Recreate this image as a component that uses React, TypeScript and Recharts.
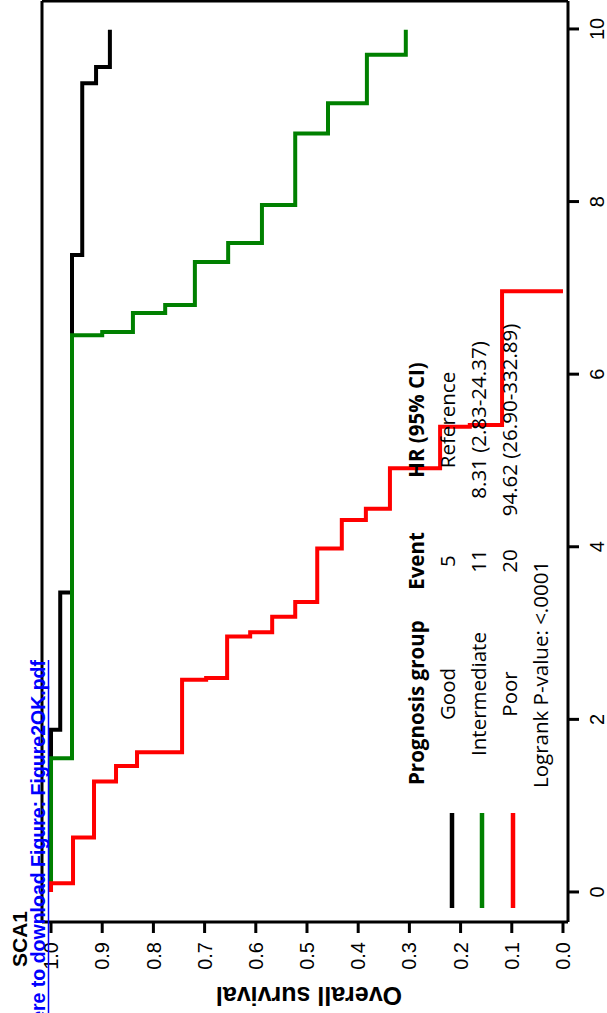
import React from "react";
import { LineChart, Line, XAxis, YAxis, ReferenceLine } from "recharts";

// Kaplan-Meier steps (time in years, overall survival)
const goodTime = [0, 1.88, 3.47, 7.38, 9.37, 9.56, 9.99];
const goodSurv = [1.0, 0.982, 0.959, 0.939, 0.912, 0.885, 0.885];

const interTime = [0, 1.55, 6.45, 6.49, 6.71, 6.8, 7.3, 7.52, 7.96, 8.79, 9.14, 9.7, 9.99];
const interSurv = [1.0, 0.959, 0.9, 0.84, 0.777, 0.719, 0.654, 0.588, 0.523, 0.459, 0.383, 0.307, 0.307];

const poorTime = [0, 0.1, 0.63, 1.28, 1.46, 1.62, 2.46, 2.48, 2.96, 3.01, 3.19, 3.36, 3.98, 4.31, 4.44, 4.91, 5.39, 5.41, 6.96];
const poorSurv = [1.0, 0.957, 0.916, 0.873, 0.832, 0.744, 0.697, 0.656, 0.611, 0.568, 0.523, 0.48, 0.432, 0.385, 0.338, 0.24, 0.182, 0.119, 0];

const timeTicks = [0, 2, 4, 6, 8, 10];
const survTicks = [0, 0.1, 0.2, 0.3, 0.4, 0.5, 0.6, 0.7, 0.8, 0.9, 1.0];

const groupNames = ["Good", "Intermediate", "Poor"];
const groupEvents = ["5", "11", "20"];
const groupHR = ["Reference", "8.31 (2.83-24.37)", "94.62 (26.90-332.89)"];
const groupColors = ["#000000", "#008000", "#ff0000"];

const T_MIN = -0.348;
const T_MAX = 10.324;
const S_MIN = -0.0098;
const S_MAX = 1.0176;

const W = 1013;
const H = 607;

const toPoints = (t: number[], s: number[]) => t.map((v, i) => ({ t: v, s: s[i] }));

const tickFont = { fontSize: 20, fill: "#000", fontFamily: "'Liberation Sans', Arial, sans-serif" };
const legendFont = "'Open Sans', 'Noto Sans', sans-serif";

function Overlay() {
  const rows = [455, 486, 517];
  const lineY = [452, 482, 513];
  return (
    <svg width={W} height={H} style={{ position: "absolute", left: 0, top: 0, pointerEvents: "none" }}>
      {/* link text */}
      <text x={353} y={45} textAnchor="end" fill="#0000ff" fontWeight="bold" fontSize={19.5}
        fontFamily="'Liberation Sans', Arial, sans-serif">
        Click here to download Figure: Figure2OK.pdf
      </text>
      <line x1={-80} x2={353} y1={48.5} y2={48.5} stroke="#0000ff" strokeWidth={1.5} />
      <text x={46} y={27} fontWeight="bold" fontSize={21} fontFamily="'Liberation Sans', Arial, sans-serif">SCA1</text>

      <text x={26} y={309} transform="rotate(-90, 26, 309)" textAnchor="middle" fontWeight="bold"
        fontSize={25} fontFamily="'Liberation Sans', Arial, sans-serif">
        Overall survival
      </text>

      {/* legend table */}
      <g fontFamily={legendFont} fontSize={20.5} fill="#000">
        <text x={228} y={424} fontWeight="bold">Prognosis group</text>
        <text x={452} y={424} fontWeight="bold" textAnchor="middle">Event</text>
        <text x={593} y={424} fontWeight="bold" textAnchor="middle">HR (95% CI)</text>
        {groupNames.map((g, i) => (
          <g key={g}>
            <line x1={105} x2={200} y1={lineY[i]} y2={lineY[i]} stroke={groupColors[i]} strokeWidth={4.5} />
            <text x={319} y={rows[i]} textAnchor="middle">{g}</text>
            <text x={452} y={rows[i]} textAnchor="middle">{groupEvents[i]}</text>
            <text x={593} y={rows[i]} textAnchor="middle">{groupHR[i]}</text>
          </g>
        ))}
        <text x={225} y={548}>Logrank P-value: &lt;.0001</text>
      </g>
    </svg>
  );
}

export default function App() {
  return (
    <div style={{ position: "fixed", left: 0, top: 0, width: H, height: W, overflow: "hidden", background: "#fff" }}>
      <div
        style={{
          position: "absolute",
          left: 0,
          top: 0,
          width: W,
          height: H,
          transformOrigin: "0 0",
          transform: `translateY(${W}px) rotate(-90deg)`,
        }}
      >
        <LineChart width={W} height={H} margin={{ top: 42, right: 1, bottom: 0, left: 0 }}>
          <XAxis
            dataKey="t"
            type="number"
            domain={[T_MIN, T_MAX]}
            allowDataOverflow
            ticks={timeTicks}
            height={39}
            tickSize={11}
            tickMargin={11}
            axisLine={{ stroke: "#000", strokeWidth: 3 }}
            tickLine={{ stroke: "#000", strokeWidth: 3 }}
            tick={tickFont}
          />
          <YAxis
            dataKey="s"
            type="number"
            domain={[S_MIN, S_MAX]}
            allowDataOverflow
            ticks={survTicks}
            width={91}
            tickSize={11}
            tickMargin={9}
            tickFormatter={(v: number) => v.toFixed(1)}
            axisLine={{ stroke: "#000", strokeWidth: 3 }}
            tickLine={{ stroke: "#000", strokeWidth: 3 }}
            tick={tickFont}
          />
          <ReferenceLine y={S_MAX} stroke="#000" strokeWidth={3} />
          <ReferenceLine x={T_MAX} stroke="#000" strokeWidth={3} />
          <Line data={toPoints(goodTime, goodSurv)} dataKey="s" type="stepAfter" stroke={groupColors[0]}
            strokeWidth={4} dot={false} isAnimationActive={false} />
          <Line data={toPoints(interTime, interSurv)} dataKey="s" type="stepAfter" stroke={groupColors[1]}
            strokeWidth={4} dot={false} isAnimationActive={false} />
          <Line data={toPoints(poorTime, poorSurv)} dataKey="s" type="stepAfter" stroke={groupColors[2]}
            strokeWidth={4} dot={false} isAnimationActive={false} />
        </LineChart>
        <Overlay />
      </div>
    </div>
  );
}
